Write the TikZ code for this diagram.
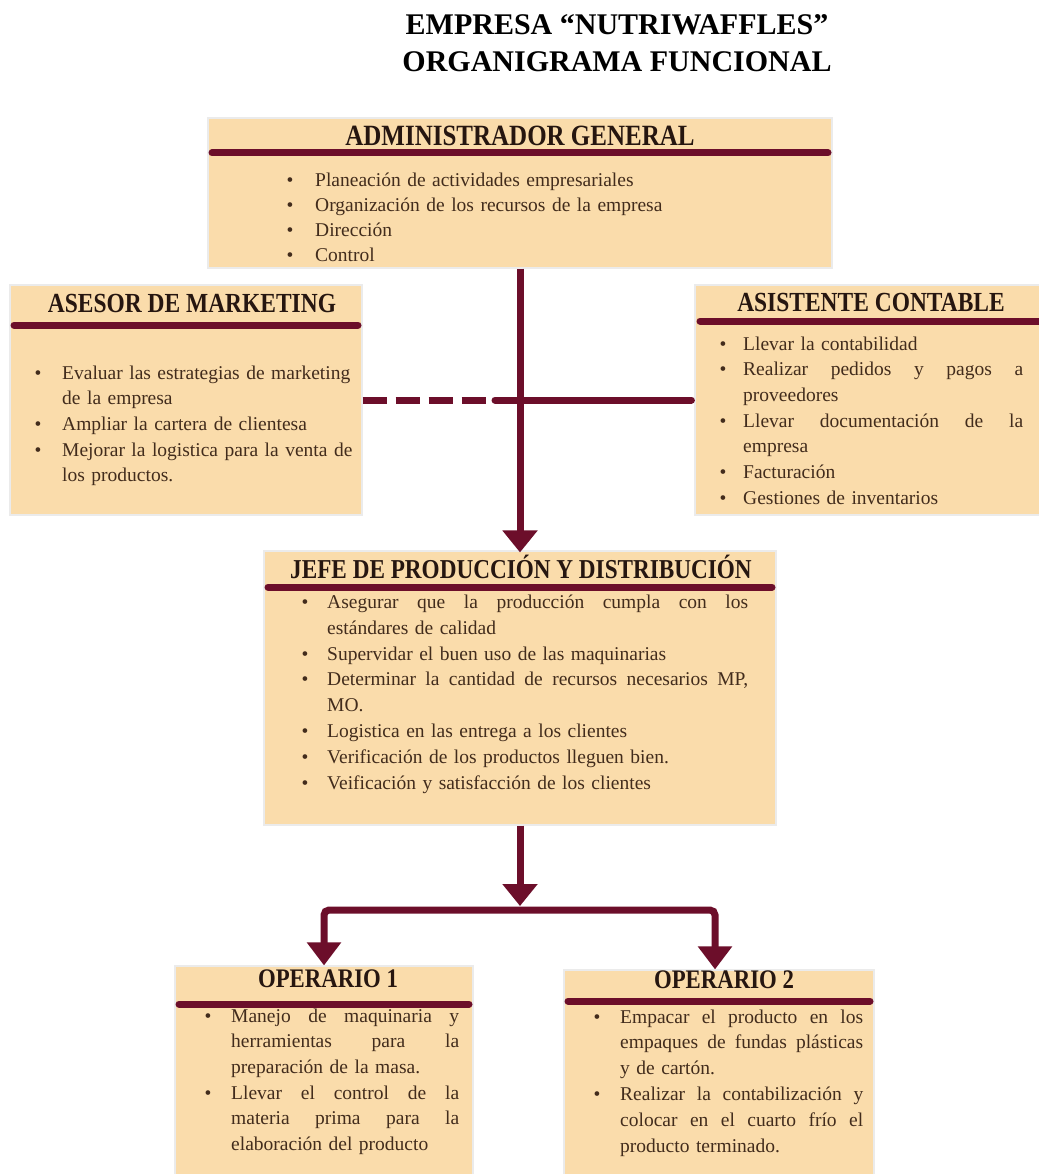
\documentclass[tikz,border=0pt]{standalone}
\usepackage{fontspec}
\usepackage{graphicx}
\setmainfont{Liberation Serif}
\usetikzlibrary{arrows.meta}
\definecolor{peach}{RGB}{250,220,171}
\definecolor{maroon}{RGB}{108,14,42}
\definecolor{hdrc}{RGB}{38,22,16}
\definecolor{txtc}{RGB}{66,44,28}
\newlength\bind
\newcommand\bitem[1]{\makebox[\bind][l]{\textbullet}#1}
\newcommand\contline[1]{\hspace*{\bind}#1}
\newcommand\just[2]{\makebox[#1][s]{\spaceskip=0pt\xspaceskip=0pt #2}}
\newcommand\hdrtext[1]{\scalebox{0.85}[1]{#1}}
\tikzset{
  box/.style={draw=black!8, line width=1.2pt, fill=peach, inner sep=0pt},
  bar/.style={draw=maroon, line width=7pt, line cap=round},
  hdr/.style={anchor=base, inner sep=0pt, text=hdrc, font=\fontsize{27.6}{28}\selectfont\bfseries},
  body/.style={anchor=north west, inner sep=0pt, align=left, text=txtc},
  conn/.style={draw=maroon, line width=7pt},
  bigarrow/.style={-{Triangle[width=34pt,length=22pt]}},
  titletext/.style={anchor=base, inner sep=0pt, font=\fontsize{30}{30}\selectfont\bfseries, text=black},
}
\begin{document}
\begin{tikzpicture}[x=1pt,y=-1pt]
\useasboundingbox (0,0) rectangle (1038,1174);
\fill[white] (0,0) rectangle (1038,1174);

% title
\node[titletext] (t1) at (617,35) {EMPRESA “NUTRIWAFFLES”};
\node[titletext] (t2) at (617,72) {ORGANIGRAMA FUNCIONAL};

% boxes
\node[box, minimum width=624pt, minimum height=150pt] (adm) at (520,193) {};
\node[box, minimum width=352pt, minimum height=230pt] (mkt) at (186,400) {};
\node[box, minimum width=347pt, minimum height=230pt] (cont) at (868.5,400) {};
\node[box, minimum width=512pt, minimum height=274pt] (jefe) at (520,688) {};
\node[box, minimum width=298pt, minimum height=214pt] (op1) at (324,1073) {};
\node[box, minimum width=310pt, minimum height=210pt] (op2) at (719,1075) {};

% header bars
\draw[bar] (212,153) -- (828,153);
\draw[bar] (14,325) -- (358,325);
\draw[bar] (700,321) -- (1045,321);
\draw[bar] (268,587) -- (772,587);
\draw[bar] (179,1004) -- (469,1004);
\draw[bar] (568,1001) -- (870,1001);

% headers
\node[hdr, font=\fontsize{29.4}{30}\selectfont\bfseries] (admH) at (520,146) {\hdrtext{ADMINISTRADOR GENERAL}};
\node[hdr] (mktH) at (192,312) {\hdrtext{ASESOR DE MARKETING}};
\node[hdr] (contH) at (871,311) {\hdrtext{ASISTENTE CONTABLE}};
\node[hdr, font=\fontsize{27.3}{28}\selectfont\bfseries] (jefeH) at (521,578) {\hdrtext{JEFE DE PRODUCCIÓN Y DISTRIBUCIÓN}};
\node[hdr, font=\fontsize{26.8}{27}\selectfont\bfseries] (op1H) at (328,987) {\hdrtext{OPERARIO 1}};
\node[hdr, font=\fontsize{26.8}{27}\selectfont\bfseries] (op2H) at (724,988) {\hdrtext{OPERARIO 2}};

% body texts
\node[body, text width=400pt, font=\fontsize{19.5}{25}\selectfont] (admT) at (286.5,168.5) {\setlength\bind{28.5pt}\strut
\bitem{Planeación de actividades empresariales}\\
\bitem{Organización de los recursos de la empresa}\\
\bitem{Dirección}\\
\bitem{Control}};

\node[body, text width=320pt, font=\fontsize{19.5}{25.7}\selectfont] (mktT) at (34.5,361) {\setlength\bind{27.5pt}\strut
\bitem{Evaluar las estrategias de marketing}\\
\contline{de la empresa}\\
\bitem{Ampliar la cartera de clientesa}\\
\bitem{Mejorar la logistica para la venta de}\\
\contline{los productos.}};

\node[body, text width=320pt, font=\fontsize{19.5}{25.7}\selectfont] (contT) at (719.5,332) {\setlength\bind{23.5pt}\strut
\bitem{Llevar la contabilidad}\\
\bitem{\just{280pt}{Realizar pedidos y pagos a}}\\
\contline{proveedores}\\
\bitem{\just{280pt}{Llevar documentación de la}}\\
\contline{empresa}\\
\bitem{Facturación}\\
\bitem{Gestiones de inventarios}};

\node[body, text width=470pt, font=\fontsize{19.5}{25.9}\selectfont] (jefeT) at (301.5,589.9) {\setlength\bind{25.5pt}\strut
\bitem{\just{421pt}{Asegurar que la producción cumpla con los}}\\
\contline{estándares de calidad}\\
\bitem{Supervidar el buen uso de las maquinarias}\\
\bitem{\just{421pt}{Determinar la cantidad de recursos necesarios MP,}}\\
\contline{MO.}\\
\bitem{Logistica en las entrega a los clientes}\\
\bitem{Verificación de los productos lleguen bien.}\\
\bitem{Veificación y satisfacción de los clientes}};

\node[body, text width=270pt, font=\fontsize{19.5}{25.6}\selectfont] (op1T) at (204.5,1004.1) {\setlength\bind{26.5pt}\strut
\bitem{\just{228pt}{Manejo de maquinaria y}}\\
\contline{\just{228pt}{herramientas para la}}\\
\contline{preparación de la masa.}\\
\bitem{\just{228pt}{Llevar el control de la}}\\
\contline{\just{228pt}{materia prima para la}}\\
\contline{elaboración del producto}};

\node[body, text width=285pt, font=\fontsize{19.5}{25.8}\selectfont] (op2T) at (593.5,1004.9) {\setlength\bind{26.5pt}\strut
\bitem{\just{243pt}{Empacar el producto en los}}\\
\contline{\just{243pt}{empaques de fundas plásticas}}\\
\contline{y de cartón.}\\
\bitem{\just{243pt}{Realizar la contabilización y}}\\
\contline{\just{243pt}{colocar en el cuarto frío el}}\\
\contline{producto terminado.}};

% connectors
\coordinate (dashEnd) at (495,400);
\coordinate (split) at (520,910);
\coordinate (splitTip) at (520,906);
\draw[conn, dash pattern=on 24pt off 9pt] (mkt.east) -- (dashEnd);
\draw[conn, line cap=round] (dashEnd) -- ([xshift=-3pt]cont.west);
\draw[conn, bigarrow] (adm.south) -- ([yshift=-2pt]jefe.north);
\draw[conn, bigarrow] (jefe.south) -- (splitTip);
\draw[conn, rounded corners=5pt, {Triangle[width=33pt,length=23pt]}-{Triangle[width=33pt,length=23pt]}]
  (op1.north) |- (split) -| ([xshift=-4pt]op2.north);
\end{tikzpicture}
\end{document}
